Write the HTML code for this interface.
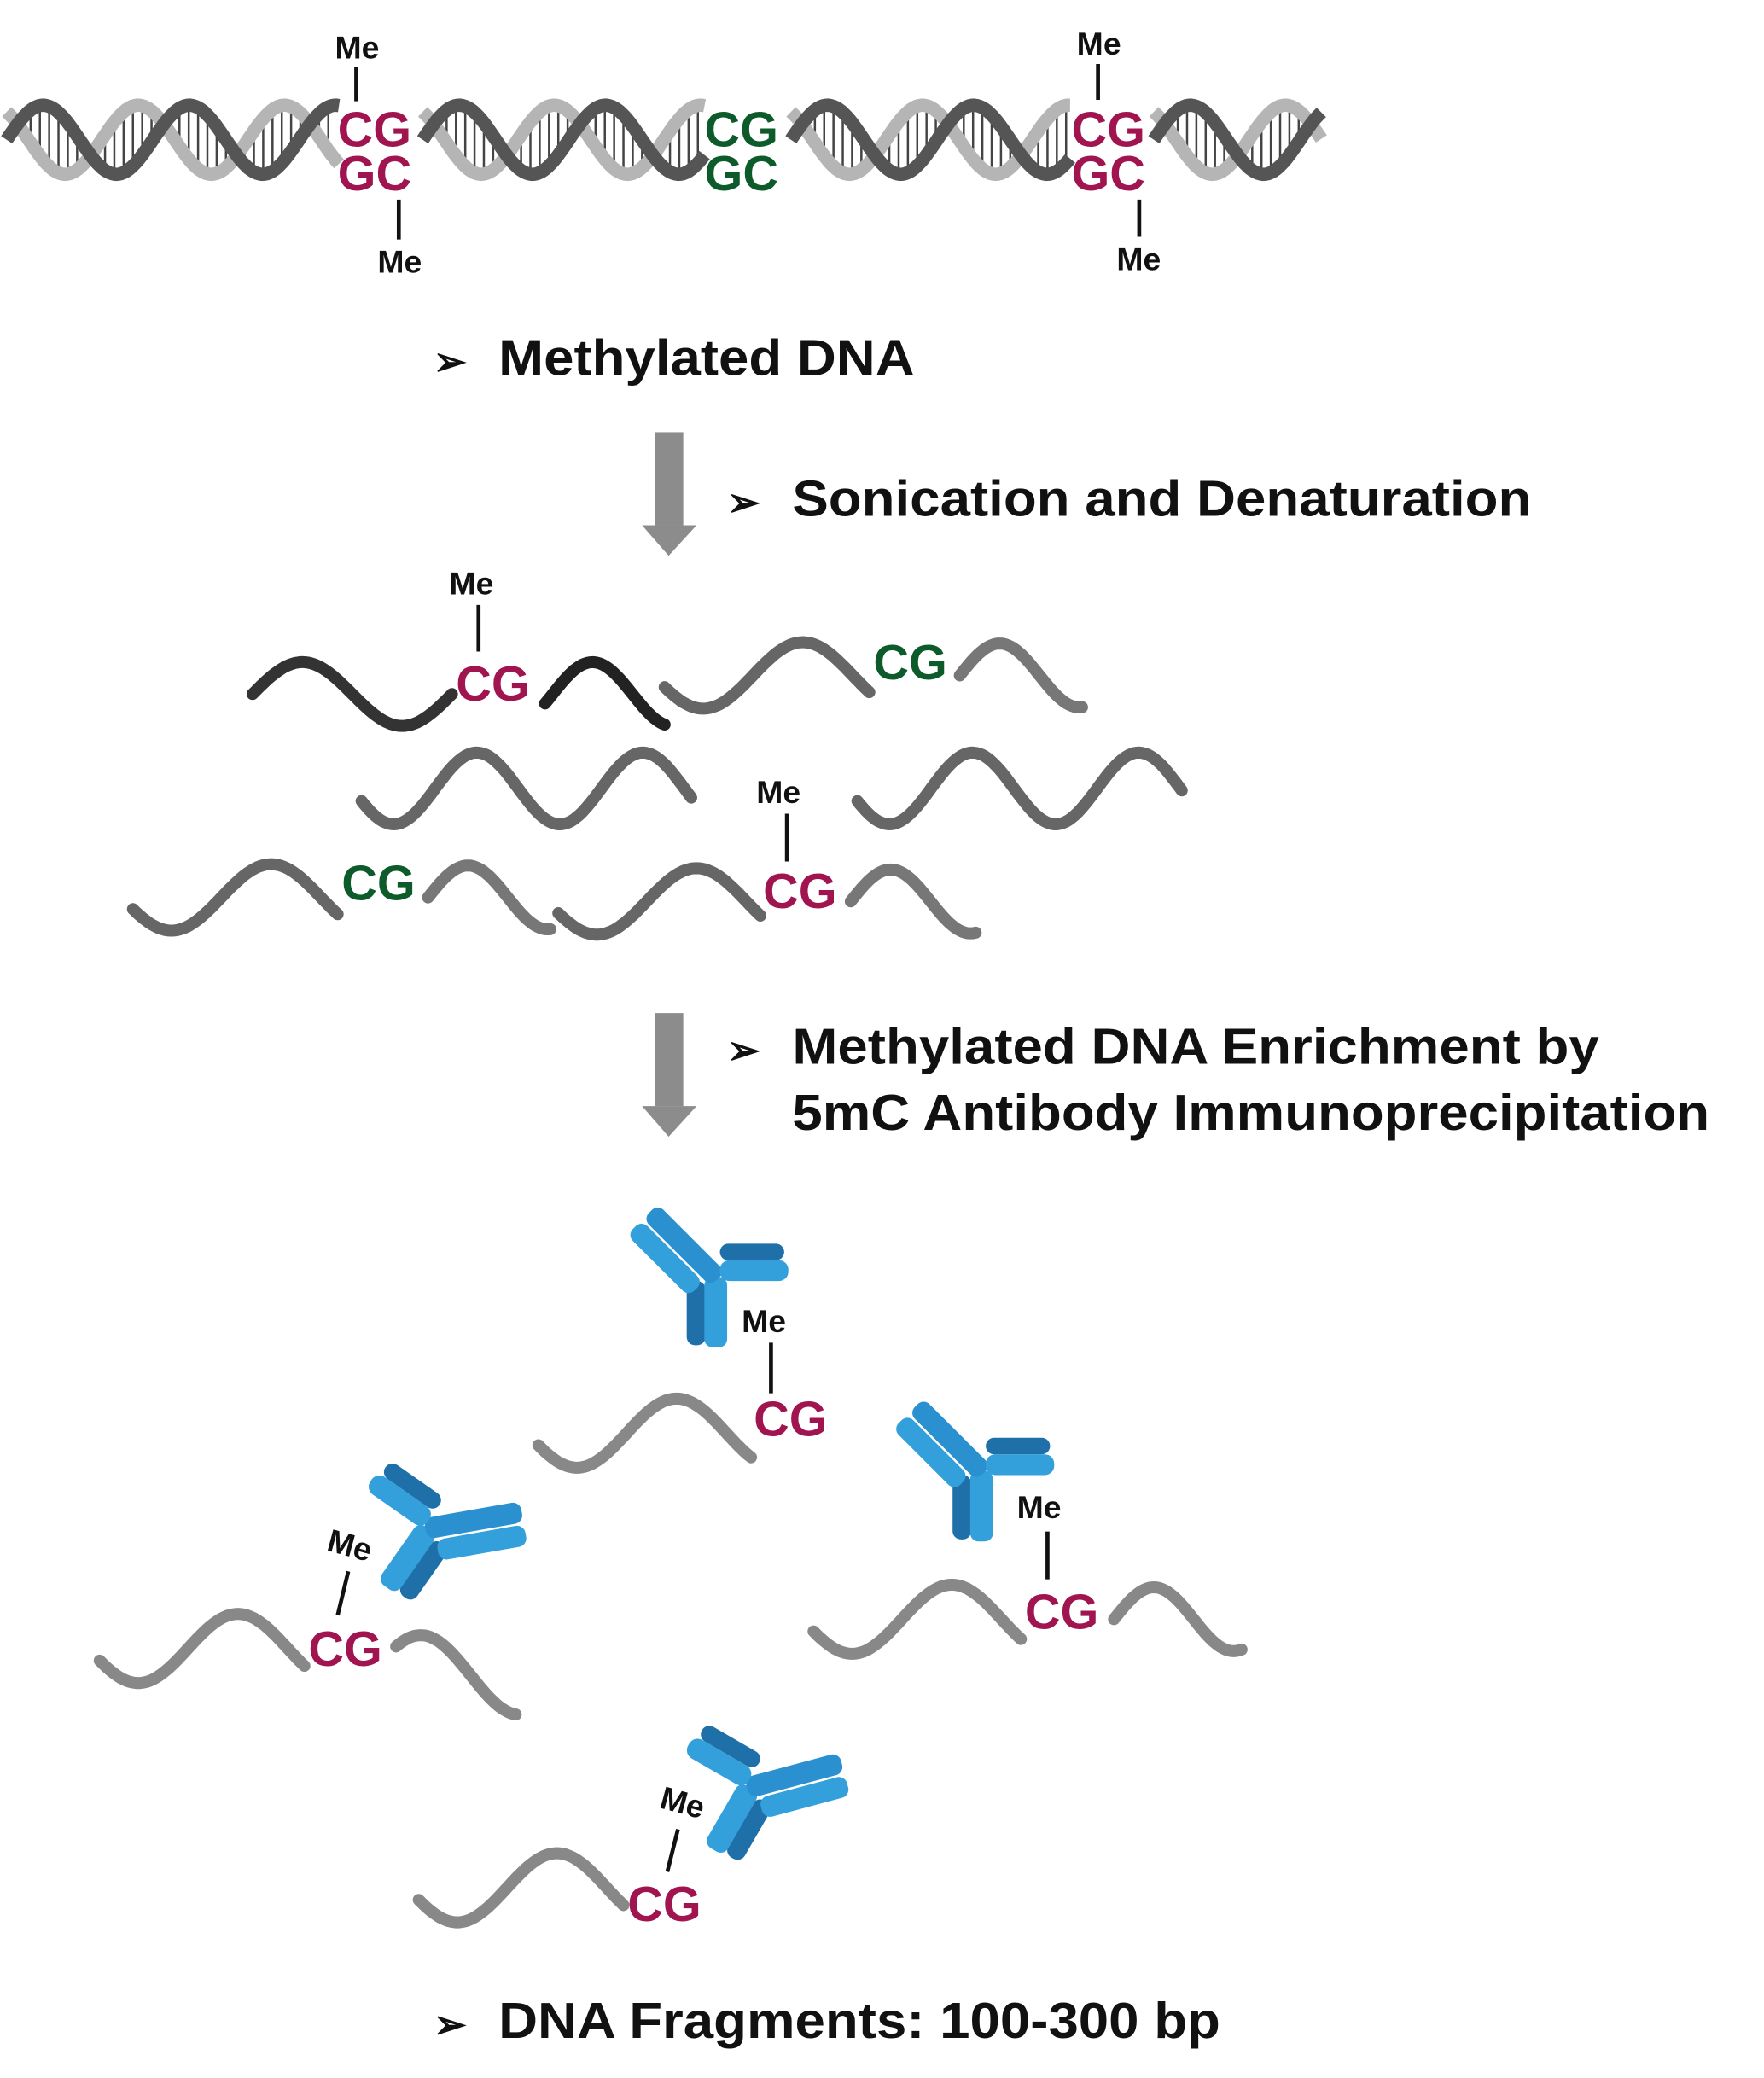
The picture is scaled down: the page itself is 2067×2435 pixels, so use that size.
<!DOCTYPE html>
<html><head><meta charset="utf-8"><style>
html,body{margin:0;padding:0;background:#fff}
svg{display:block}
.t{font-family:"Liberation Sans",sans-serif;font-weight:bold;fill:#111}
.cg{font-family:"Liberation Sans",sans-serif;font-weight:bold;font-size:37px}
.r{fill:#a0144f}.g{fill:#0d5a2a}
.me{font-family:"Liberation Sans",sans-serif;font-weight:bold;font-size:24px;fill:#111}
</style></head><body>
<svg id="s" width="2067" height="2435" viewBox="0 0 1327 1563" xmlns="http://www.w3.org/2000/svg">
<defs>
<g id="ab">
 <rect x="-30" y="2" width="18" height="62" rx="8" fill="#1f6fa8"/>
 <rect x="-13" y="-2" width="22" height="68" rx="8" fill="#33a0dc"/>
 <g transform="rotate(-45)">
  <rect x="-10" y="-92" width="20" height="92" rx="8" fill="#2a90cf"/>
  <rect x="-32" y="-92" width="20" height="84" rx="8" fill="#33a0dc"/>
 </g>
 <rect x="2" y="-34" width="62" height="16" rx="8" fill="#1f6fa8"/>
 <rect x="2" y="-18" width="66" height="20" rx="9" fill="#33a0dc"/>
</g>
</defs>
<g id="dna"></g>
<!-- top labels -->
<text class="cg r" x="254" y="110">CG</text><text class="cg r" x="254" y="143">GC</text>
<text class="cg g" x="530" y="110">CG</text><text class="cg g" x="530" y="143">GC</text>
<text class="cg r" x="806" y="110">CG</text><text class="cg r" x="806" y="143">GC</text>
<text class="me" x="252" y="44">Me</text><line x1="268" y1="50" x2="268" y2="76" stroke="#111" stroke-width="3"/>
<text class="me" x="284" y="205">Me</text><line x1="300" y1="150" x2="300" y2="180" stroke="#111" stroke-width="3"/>
<text class="me" x="810" y="41">Me</text><line x1="826" y1="48" x2="826" y2="75" stroke="#111" stroke-width="3"/>
<text class="me" x="840" y="203">Me</text><line x1="857" y1="150" x2="857" y2="178" stroke="#111" stroke-width="3"/>

<text class="t" x="326" y="282" font-size="30">➢</text>
<text class="t" x="375" y="282" font-size="38" textLength="313" lengthAdjust="spacingAndGlyphs">Methylated DNA</text>

<g fill="#8c8c8c"><rect x="493" y="325" width="21" height="70"/><polygon points="483,395 524,395 503,418"/></g>
<text class="t" x="547" y="388" font-size="30">➢</text>
<text class="t" x="596" y="388" font-size="38" textLength="556" lengthAdjust="spacingAndGlyphs">Sonication and Denaturation</text>

<text class="me" x="338" y="447" font-size="28">Me</text><line x1="360" y1="455" x2="360" y2="490" stroke="#111" stroke-width="3"/>
<text class="cg r" x="343" y="527">CG</text>
<text class="cg g" x="657" y="511">CG</text>
<text class="me" x="569" y="604" font-size="28">Me</text><line x1="592" y1="612" x2="592" y2="648" stroke="#111" stroke-width="3"/>
<text class="cg r" x="574" y="683">CG</text>
<text class="cg g" x="257" y="677">CG</text>

<g fill="#8c8c8c"><rect x="493" y="762" width="21" height="70"/><polygon points="483,832 524,832 503,855"/></g>
<text class="t" x="547" y="800" font-size="30">➢</text>
<text class="t" x="596" y="800" font-size="38" textLength="607" lengthAdjust="spacingAndGlyphs">Methylated DNA Enrichment by</text>
<text class="t" x="596" y="850" font-size="38" textLength="690" lengthAdjust="spacingAndGlyphs">5mC Antibody Immunoprecipitation</text>

<!-- antibodies -->
<use href="#ab" transform="translate(540,962) scale(0.78)"/>
<text class="me" x="558" y="1002" font-size="28">Me</text><line x1="580" y1="1010" x2="580" y2="1048" stroke="#111" stroke-width="3"/>
<text class="cg r" x="567" y="1080">CG</text>

<use href="#ab" transform="translate(740,1108) scale(0.78)"/>
<text class="me" x="765" y="1142" font-size="28">Me</text><line x1="788" y1="1152" x2="788" y2="1188" stroke="#111" stroke-width="3"/>
<text class="cg r" x="771" y="1225">CG</text>

<use href="#ab" transform="translate(320,1150) rotate(35) scale(-0.8,0.8)"/>
<text class="me" x="246" y="1172" font-size="28" transform="rotate(15 268 1165)">Me</text><line x1="262" y1="1182" x2="254" y2="1215" stroke="#111" stroke-width="3"/>
<text class="cg r" x="232" y="1253">CG</text>

<use href="#ab" transform="translate(562,1345) rotate(30) scale(-0.8,0.8)"/>
<text class="me" x="496" y="1366" font-size="28" transform="rotate(15 520 1360)">Me</text><line x1="510" y1="1376" x2="502" y2="1408" stroke="#111" stroke-width="3"/>
<text class="cg r" x="472" y="1445">CG</text>

<text class="t" x="326" y="1533" font-size="30">➢</text>
<text class="t" x="375" y="1533" font-size="38" textLength="543" lengthAdjust="spacingAndGlyphs">DNA Fragments: 100-300 bp</text>
<g id="waves"></g>
</svg>
<script>
var NS="http://www.w3.org/2000/svg";
function el(p,tag,a){var e=document.createElementNS(NS,tag);for(var k in a)e.setAttribute(k,a[k]);document.getElementById(p).appendChild(e);return e;}
function sine(x0,x1,yc,amp,P,ph){var d="";for(var x=x0;x<=x1;x+=2){var y=yc-amp*Math.sin(2*Math.PI*(x-x0)/P+ph);d+=(d?"L":"M")+x.toFixed(1)+","+y.toFixed(1);}return d;}
[[5,255],[318,530],[595,805],[868,995]].forEach(function(s){
 var x0=s[0],x1=s[1],P=110,yc=105,A=26;
 for(var x=x0+4;x<x1-2;x+=7){var a=yc-A*Math.sin(2*Math.PI*(x-x0)/P),b=yc-A*Math.sin(2*Math.PI*(x-x0)/P+2.2);el("dna","line",{x1:x,y1:a,x2:x,y2:b,stroke:"#444","stroke-width":1.6});}
 el("dna","path",{d:sine(x0,x1,yc,A,P,2.2),fill:"none",stroke:"#b5b5b5","stroke-width":10});
 el("dna","path",{d:sine(x0,x1,yc,A,P,0),fill:"none",stroke:"#555","stroke-width":10});
});
function w(x0,x1,yc,amp,P,ph,c){el("waves","path",{d:sine(x0,x1,yc,amp,P,ph),fill:"none",stroke:c||"#777","stroke-width":9,"stroke-linecap":"round"});}
w(190,340,522,24,150,0,"#333");
w(410,500,522,24,120,-0.3,"#222");
w(500,655,508,25,150,3.5,"#666");w(722,815,508,24,120,0,"#777");
w(272,520,593,27,125,3.5,"#666");w(645,890,593,27,125,3.5,"#666");
w(100,255,675,25,150,3.5,"#666");w(322,415,675,24,120,0,"#777");
w(420,572,678,25,150,3.5,"#666");w(640,735,678,24,120,0,"#777");
w(405,565,1078,26,150,3.5,"#888");
w(612,768,1218,26,150,3.5,"#888");w(838,935,1218,24,120,0,"#888");
w(75,230,1240,26,150,3.5,"#888");w(298,388,1260,30,150,0.8,"#888");
w(315,470,1420,26,150,3.5,"#888");
</script>
</body></html>
